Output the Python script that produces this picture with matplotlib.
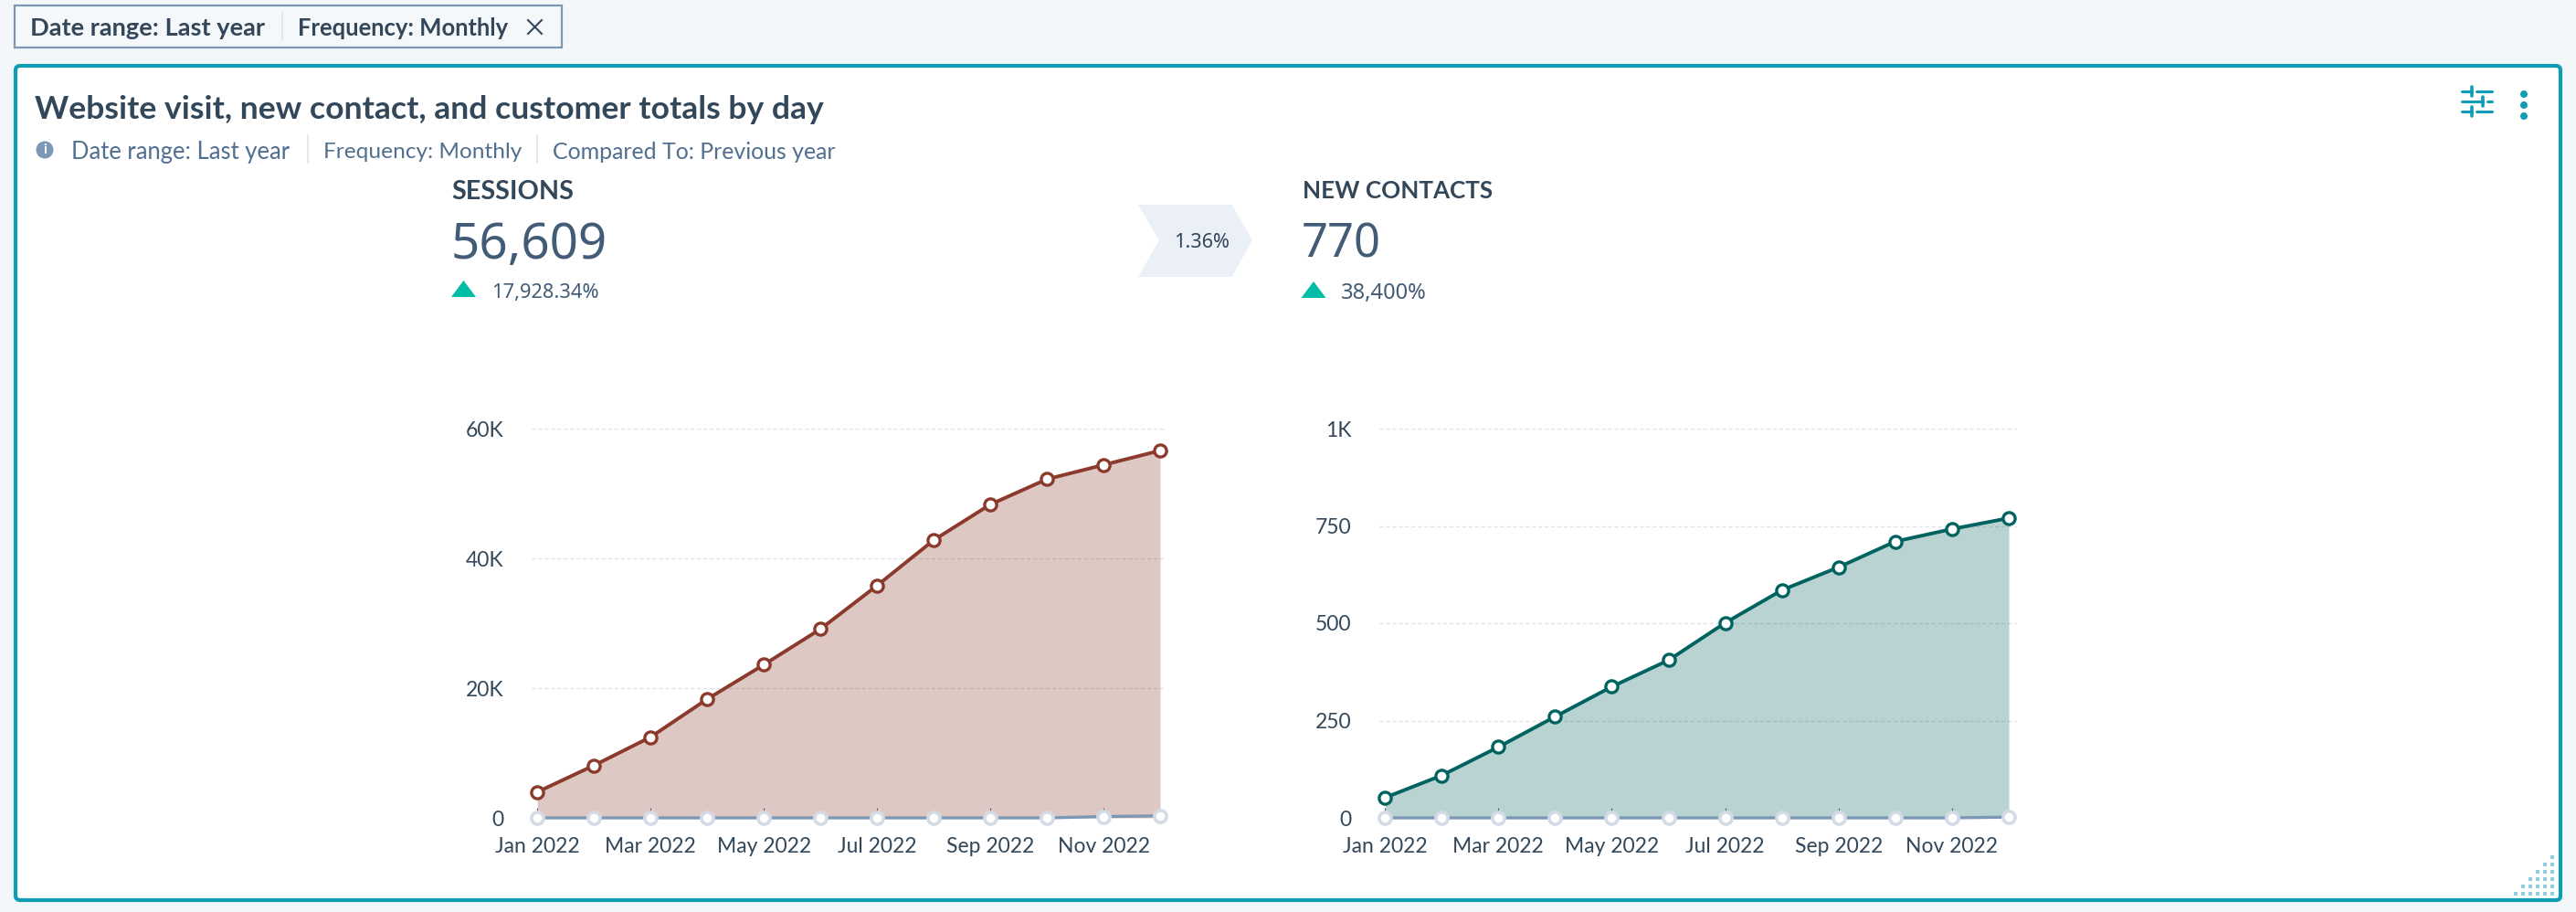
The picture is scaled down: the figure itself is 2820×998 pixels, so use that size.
import matplotlib
matplotlib.use("Agg")
import matplotlib.pyplot as plt
from matplotlib.patches import FancyBboxPatch, Polygon, Circle, Rectangle

plt.rcParams['font.family'] = ['Lato', 'DejaVu Sans']

W, H = 2820, 998
months = ['Jan 2022', 'Feb 2022', 'Mar 2022', 'Apr 2022', 'May 2022', 'Jun 2022',
          'Jul 2022', 'Aug 2022', 'Sep 2022', 'Oct 2022', 'Nov 2022', 'Dec 2022']
sessions = [3990, 8080, 12450, 18300, 23600, 29100, 35800, 42800, 48300, 52200, 54400, 56609]
sessions_prev = [0, 0, 0, 0, 0, 0, 0, 0, 0, 0, 200, 314]
contacts = [52, 109, 182, 260, 337, 405, 501, 585, 644, 710, 742, 770]
contacts_prev = [0, 0, 0, 0, 0, 0, 0, 0, 0, 0, 0, 2]
sessions_ticks = [0, 20000, 40000, 60000]
sessions_labels = ['0', '20K', '40K', '60K']
contacts_ticks = [0, 250, 500, 750, 1000]
contacts_labels = ['0', '250', '500', '750', '1K']

DARK = '#33475b'
MID = '#516f90'
BIG = '#425b76'
TEAL = '#0f9db6'
GREEN = '#00bda5'
GRID = '#dfe3eb'
RING = '#d5dbe6'
BASE = '#7c98b6'

fig = plt.figure(figsize=(W / 100, H / 100), dpi=100, facecolor='#f4f7f9')
bg = fig.add_axes([0, 0, 1, 1], zorder=0)
bg.set_xlim(0, W)
bg.set_ylim(H, 0)
bg.axis('off')
renderer = fig.canvas.get_renderer()


def fit(s, x0, x1, cy, color, weight='normal', size=16, family=None):
    """Place text so it spans x0..x1 around vertical centre cy."""
    t = bg.text(x0, cy, s, color=color, fontweight=weight, fontsize=size,
                ha='left', va='center_baseline')
    if family:
        t.set_family(family)
    w = t.get_window_extent(renderer).width
    t.set_fontsize(size * (x1 - x0) / w)
    return t


# filter chip
bg.add_patch(Rectangle((16, 6), 599, 46, fc='#f5f8fa', ec='#7d97b5', lw=1.6))
fit('Date range: Last year', 33, 291, 29, DARK, 'bold')
bg.plot([309, 309], [14, 43], color=GRID, lw=1.2)
fit('Frequency: Monthly', 326.5, 558, 29, DARK, 'bold')
bg.plot([578, 593], [22, 37], color=DARK, lw=1.5)
bg.plot([578, 593], [37, 22], color=DARK, lw=1.5)

# card
bg.add_patch(FancyBboxPatch((17, 72), 2786, 913, boxstyle='round,pad=0,rounding_size=5',
                            fc='white', ec=TEAL, lw=3))
fit('Website visit, new contact, and customer totals by day', 38, 902, 117, DARK, 'bold')

# subtitle row
bg.add_patch(Circle((49, 164), 9.5, fc='#7c98b6', ec='none'))
bg.text(49, 164, 'i', color='white', fontsize=11, fontweight='bold', ha='center', va='center')
fit('Date range: Last year', 78, 319, 164, MID)
bg.plot([337, 337], [148, 178], color=GRID, lw=1.2)
fit('Frequency: Monthly', 354, 572, 164, MID)
bg.plot([588, 588], [148, 178], color=GRID, lw=1.2)
fit('Compared To: Previous year', 605, 917, 164, MID)

# sessions block
fit('SESSIONS', 494, 628, 207, DARK, 'bold')
fit('56,609', 494, 665, 262, BIG, 300, family='Noto Sans')
bg.add_patch(Polygon([(494, 325), (521, 325), (507.5, 307)], fc=GREEN, ec='none'))
fit('17,928.34%', 537.6, 655, 318, BIG, family='Noto Sans')

# chevron
bg.add_patch(Polygon([(1246, 224), (1348.5, 224), (1371, 263), (1348.5, 303), (1246, 303), (1269, 263)],
                     fc='#eaf0f6', ec='none'))
fit('1.36%', 1285, 1346, 263, DARK, family='Noto Sans')

# contacts block
fit('NEW CONTACTS', 1426, 1634, 207, DARK, 'bold')
fit('770', 1425, 1512, 262, BIG, 300, family='Noto Sans')
bg.add_patch(Polygon([(1424.5, 326), (1451.5, 326), (1438, 308)], fc=GREEN, ec='none'))
fit('38,400%', 1468, 1562, 318, BIG, family='Noto Sans')

# slider icon
for y, kx in [(100, 2706), (111, 2718), (122, 2706)]:
    bg.plot([2695, kx], [y, y], color=TEAL, lw=2.2, solid_capstyle='round')
    bg.plot([kx + 5, 2728], [y, y], color=TEAL, lw=2.2, solid_capstyle='round')
    bg.plot([kx, kx], [y - 5, y + 5], color=TEAL, lw=2.6, solid_capstyle='round')
# menu dots
for y in (103, 115, 127):
    bg.add_patch(Circle((2763, y), 4, fc=TEAL, ec='none'))
# resize grip
for row in range(6):
    for col in range(row + 1):
        bg.add_patch(Rectangle((2794 - col * 8 - 2, 977.5 - (5 - row) * 8 - 2), 4, 4,
                               fc='#8fd0dc', ec='none'))


def chart(left, right, x_first, x_last, values, prev, ticks, labels, color):
    top, bottom = 469, 895
    ax = fig.add_axes([left / W, 1 - bottom / H, (right - left) / W, (bottom - top) / H], zorder=2)
    ax.patch.set_alpha(0)
    per = (x_last - x_first) / 11
    ax.set_xlim((left - x_first) / per, (right - x_first) / per)
    ax.set_ylim(ticks[0], ticks[-1])
    xs = list(range(len(months)))
    ax.set_axisbelow(True)
    ax.grid(axis='y', color=GRID, ls=(0, (3, 2)), lw=1)
    ax.fill_between(xs, values, 0, color=color, alpha=0.28, lw=0, zorder=1)
    ax.plot(xs, prev, color=BASE, lw=2.4, clip_on=False, zorder=2)
    ax.plot(xs, prev, ls='none', marker='o', ms=9.5, mfc='white', mec=RING,
            mew=2.6, clip_on=False, zorder=2.5)
    ax.plot(xs, values, color=color, lw=2.8, marker='o', ms=9.5, mfc='white', mec=color,
            mew=2.4, clip_on=False, zorder=3)
    for s in ax.spines.values():
        s.set_visible(False)
    ax.set_xticks(xs[::2])
    ax.set_xticklabels(months[::2])
    ax.set_yticks(ticks)
    ax.set_yticklabels(labels)
    ax.tick_params(axis='x', direction='in', length=8, width=0.8, color='#5b6f86',
                   pad=15, labelsize=16.5, labelcolor=DARK)
    ax.tick_params(axis='y', length=0, pad=22, labelsize=16.5, labelcolor=DARK)
    return ax


chart(581.8, 1276.5, 588.2, 1270, sessions, sessions_prev, sessions_ticks, sessions_labels, '#8b3a2c')
chart(1509.8, 2207.7, 1516.2, 2199, contacts, contacts_prev, contacts_ticks, contacts_labels, '#00635f')

fig.savefig('out.png', dpi=100, facecolor=fig.get_facecolor())
